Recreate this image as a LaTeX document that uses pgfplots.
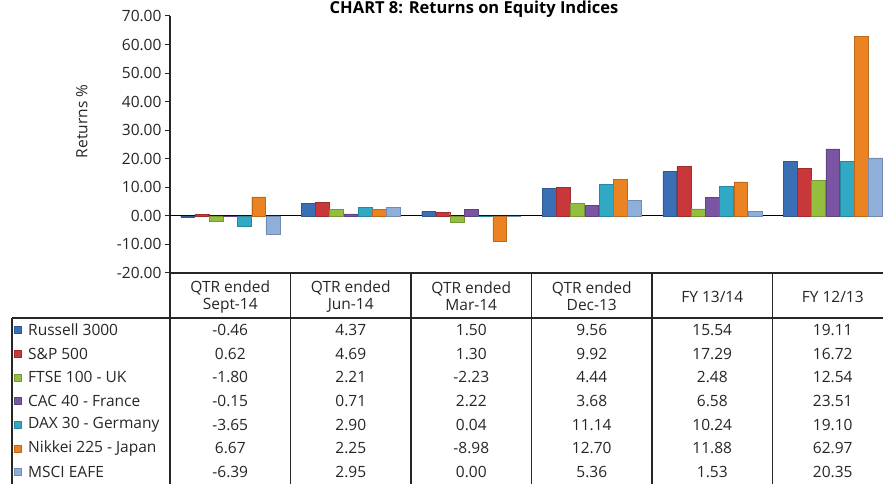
\documentclass[border=0pt]{standalone}
\usepackage{fontspec}
\setmainfont{Open Sans}
\usepackage{pgfplots}
\usepackage{pgfplotstable}
\pgfplotsset{compat=1.18}

\definecolor{cRus}{HTML}{3A6FB5}
\definecolor{cSP}{HTML}{C8383A}
\definecolor{cFTSE}{HTML}{93BE3E}
\definecolor{cCAC}{HTML}{7A55A4}
\definecolor{cDAX}{HTML}{31A9C4}
\definecolor{cNik}{HTML}{EC8322}
\definecolor{cMSCI}{HTML}{8FAEDA}
\definecolor{txt}{HTML}{262626}

% returns in %, one row per period
\pgfplotstableread{
x   Russell SP    FTSE  CAC   DAX   Nikkei MSCI
0.5 -0.46   0.62  -1.80 -0.15 -3.65 6.67   -6.39
1.5 4.37    4.69  2.21  0.71  2.90  2.25   2.95
2.5 1.50    1.30  -2.23 2.22  0.04  -8.98  0.00
3.5 9.56    9.92  4.44  3.68  11.14 12.70  5.36
4.5 15.54   17.29 2.48  6.58  10.24 11.88  1.53
5.5 19.11   16.72 12.54 23.51 19.10 62.97  20.35
}\returns

\pgfplotsset{
  barstyle/.style={fill=#1, draw=#1!80!black, line width=0.4pt},
}

\begin{document}
\begin{tikzpicture}[font=\fontsize{15.5}{17}\selectfont, color=txt]
\begin{axis}[
    scale only axis,
    width=723pt, height=257pt,
    xmin=0, xmax=6, ymin=-20, ymax=70,
    enlargelimits=false,
    ybar=0.4pt, bar width=13.8pt,
    axis lines=left,
    axis line style={-, line width=1.2pt, black!85},
    xtick=\empty,
    ytick={-20,-10,...,70},
    tick align=outside,
    major tick length=5pt,
    tick style={line width=1pt, black!85},
    /pgf/number format/assume math mode=true,
    yticklabel style={/pgf/number format/fixed, /pgf/number format/fixed zerofill, /pgf/number format/precision=2, color=txt},
    extra y ticks={0},
    extra y tick labels={},
    extra y tick style={grid=major, major grid style={line width=1.2pt, black}},
    ylabel={Returns \%},
    every axis y label/.style={at={(axis description cs:-0.122,0.59)}, rotate=90, anchor=center},
]
\addplot[barstyle=cRus]  table[x=x, y=Russell] {\returns};
\addplot[barstyle=cSP]   table[x=x, y=SP]      {\returns};
\addplot[barstyle=cFTSE] table[x=x, y=FTSE]    {\returns};
\addplot[barstyle=cCAC]  table[x=x, y=CAC]     {\returns};
\addplot[barstyle=cDAX]  table[x=x, y=DAX]     {\returns};
\addplot[barstyle=cNik]  table[x=x, y=Nikkei]  {\returns};
\addplot[barstyle=cMSCI] table[x=x, y=MSCI]    {\returns};
\end{axis}

% title
\node[font=\bfseries\fontsize{16.5}{18}\selectfont, anchor=base, text=black] at (304pt,259pt) {CHART 8: Returns on Equity Indices};

% data table below the chart
\draw[line width=1.2pt, black!85] (-158pt,-45pt) -- (723pt,-45pt);
\draw[line width=1.2pt, black!85] (-158pt,-45pt) -- (-158pt,-215pt);
\foreach \j in {0,...,6}
  \draw[line width=1.2pt, black!85] ({120.5pt*\j},0pt) -- ({120.5pt*\j},-215pt);

\foreach \h [count=\j from 0] in {{QTR ended\\Sept-14},{QTR ended\\Jun-14},{QTR ended\\Mar-14},{QTR ended\\Dec-13},{FY 13/14},{FY 12/13}}
  \node[align=center, inner sep=0pt] at ({60.25pt+120.5pt*\j},-23.5pt) {\h};

\foreach \name/\colr/\col [count=\c from 0] in {Russell 3000/cRus/Russell, S\&P 500/cSP/SP, FTSE 100 - UK/cFTSE/FTSE, CAC 40 - France/cCAC/CAC, DAX 30 - Germany/cDAX/DAX, Nikkei 225 - Japan/cNik/Nikkei, MSCI EAFE/cMSCI/MSCI} {
  \fill[\colr, draw=\colr!80!black, line width=0.4pt] (-156pt,{-45pt-23.7pt*(\c+0.5)-3.5pt}) rectangle ++(7pt,7pt);
  \node[anchor=west, inner sep=0pt] at (-142pt,{-45pt-23.7pt*(\c+0.5)}) {\name};
  \foreach \r in {0,...,5} {
    \pgfplotstablegetelem{\r}{\col}\of\returns
    \node[inner sep=0pt] at ({60.25pt+120.5pt*\r},{-45pt-23.7pt*(\c+0.5)})
      {\pgfmathprintnumber[fixed, fixed zerofill, precision=2, assume math mode=true]{\pgfplotsretval}};
  }
}

\pgfresetboundingbox
\useasboundingbox (-170pt,-211pt) rectangle (713pt,273pt);
\end{tikzpicture}
\end{document}
